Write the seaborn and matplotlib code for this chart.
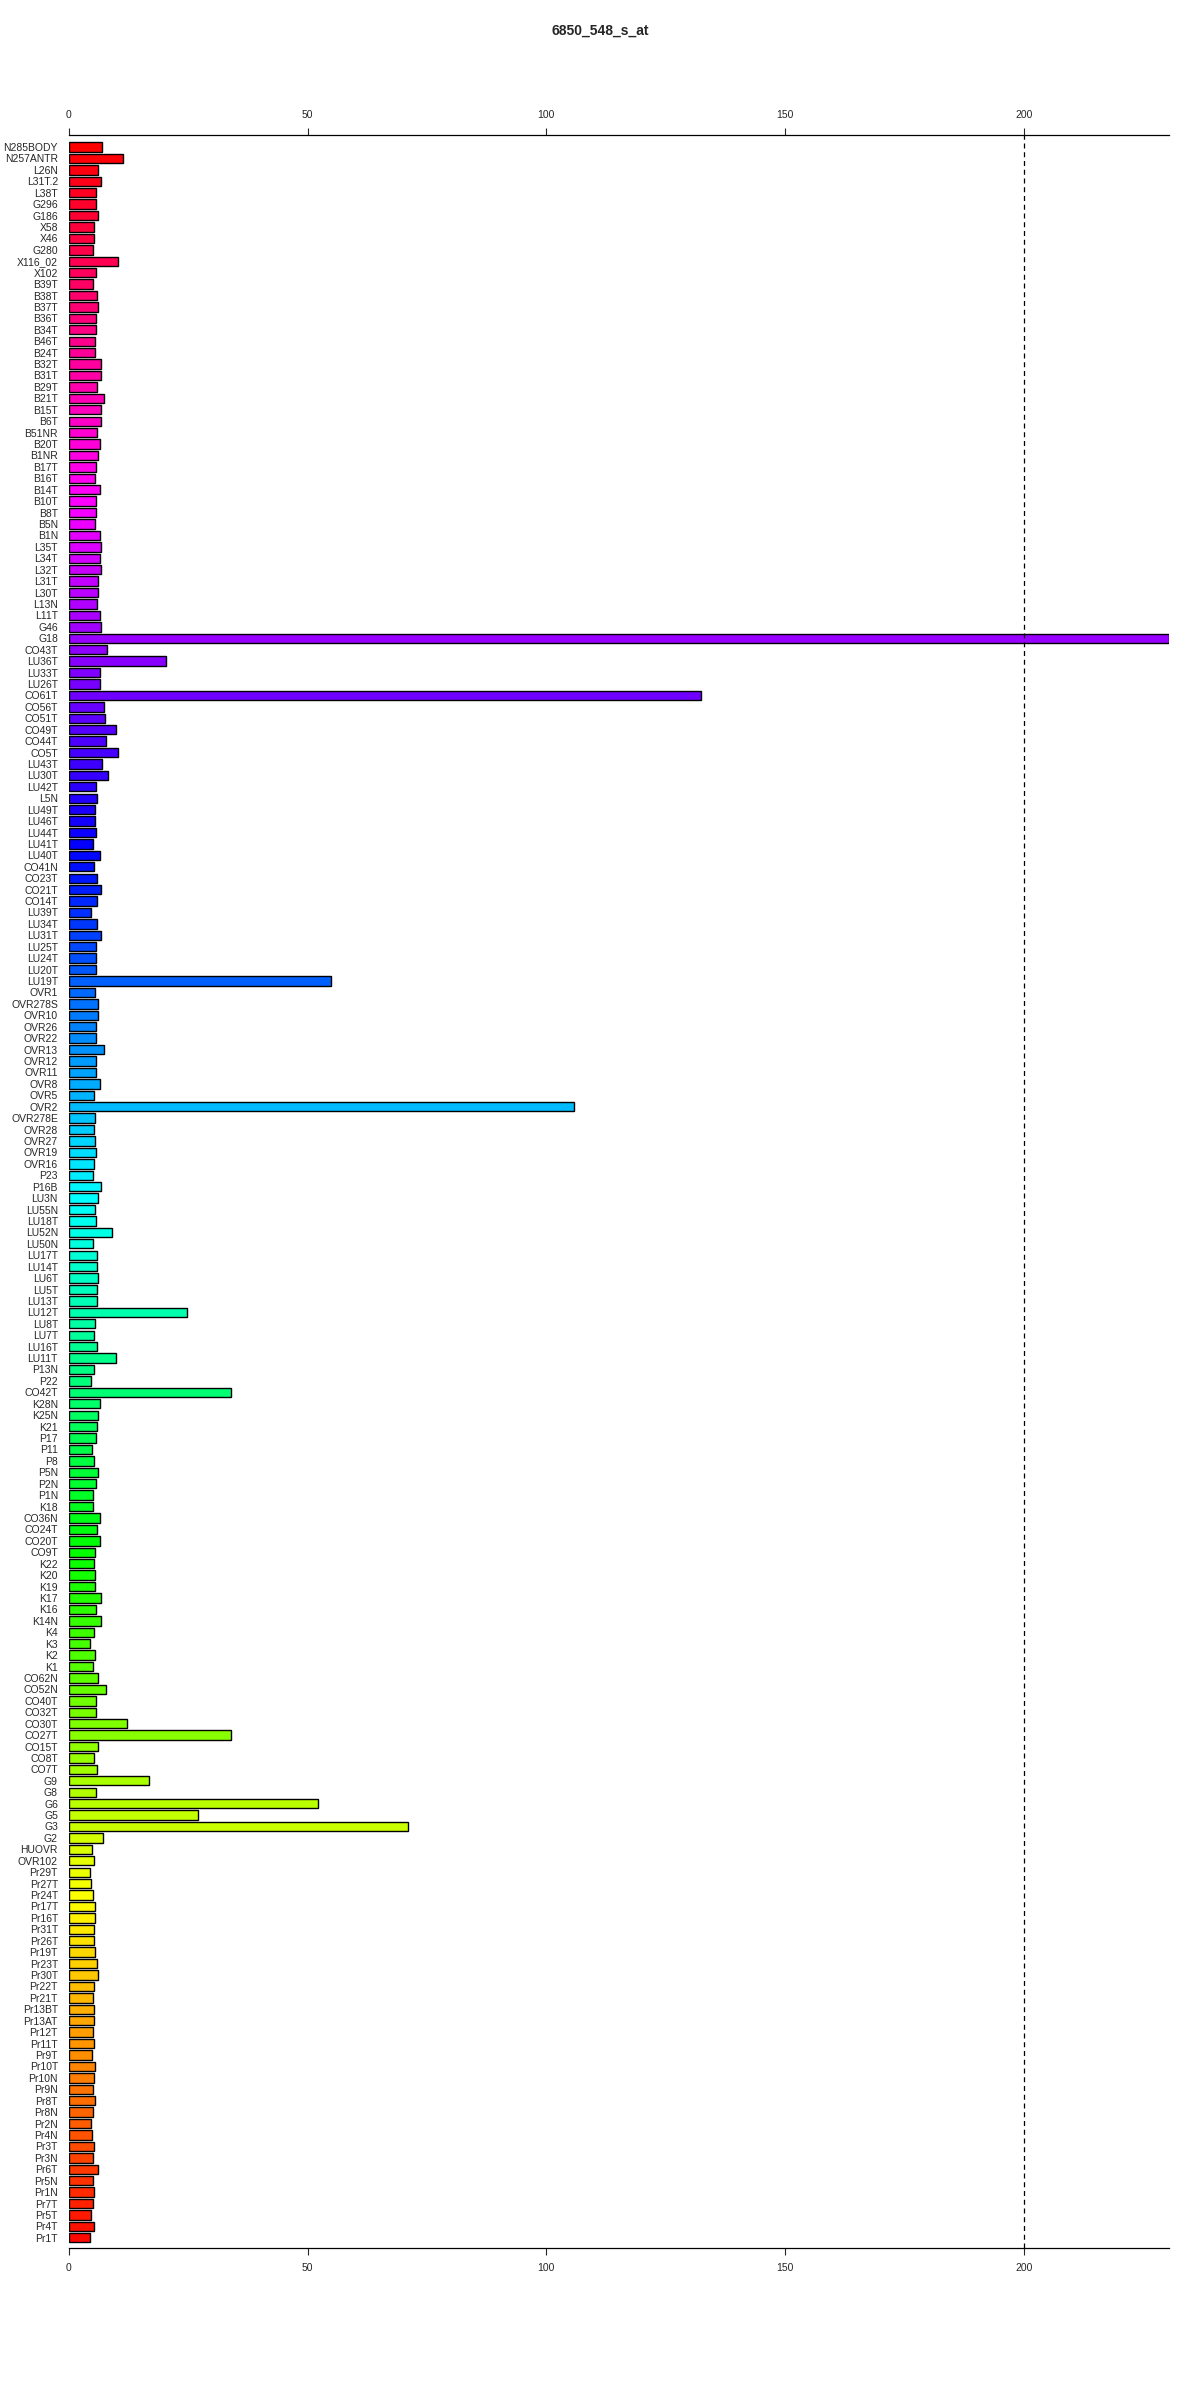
import colorsys
import numpy as np
import pandas as pd
import matplotlib
matplotlib.use("Agg")
import matplotlib.pyplot as plt
import seaborn as sns

# probe set shown in the title
title = "6850_548_s_at"

# sample names, top to bottom
samples = [
    "N285BODY", "N257ANTR", "L26N", "L31T.2", "L38T", "G296", "G186", "X58", "X46", "G280",
    "X116_02", "X102", "B39T", "B38T", "B37T", "B36T", "B34T", "B46T", "B24T", "B32T",
    "B31T", "B29T", "B21T", "B15T", "B6T", "B51NR", "B20T", "B1NR", "B17T", "B16T",
    "B14T", "B10T", "B8T", "B5N", "B1N", "L35T", "L34T", "L32T", "L31T", "L30T",
    "L13N", "L11T", "G46", "G18", "CO43T", "LU36T", "LU33T", "LU26T", "CO61T", "CO56T",
    "CO51T", "CO49T", "CO44T", "CO5T", "LU43T", "LU30T", "LU42T", "L5N", "LU49T", "LU46T",
    "LU44T", "LU41T", "LU40T", "CO41N", "CO23T", "CO21T", "CO14T", "LU39T", "LU34T", "LU31T",
    "LU25T", "LU24T", "LU20T", "LU19T", "OVR1", "OVR278S", "OVR10", "OVR26", "OVR22", "OVR13",
    "OVR12", "OVR11", "OVR8", "OVR5", "OVR2", "OVR278E", "OVR28", "OVR27", "OVR19", "OVR16",
    "P23", "P16B", "LU3N", "LU55N", "LU18T", "LU52N", "LU50N", "LU17T", "LU14T", "LU6T",
    "LU5T", "LU13T", "LU12T", "LU8T", "LU7T", "LU16T", "LU11T", "P13N", "P22", "CO42T",
    "K28N", "K25N", "K21", "P17", "P11", "P8", "P5N", "P2N", "P1N", "K18",
    "CO36N", "CO24T", "CO20T", "CO9T", "K22", "K20", "K19", "K17", "K16", "K14N",
    "K4", "K3", "K2", "K1", "CO62N", "CO52N", "CO40T", "CO32T", "CO30T", "CO27T",
    "CO15T", "CO8T", "CO7T", "G9", "G8", "G6", "G5", "G3", "G2", "HUOVR",
    "OVR102", "Pr29T", "Pr27T", "Pr24T", "Pr17T", "Pr16T", "Pr31T", "Pr26T", "Pr19T", "Pr23T",
    "Pr30T", "Pr22T", "Pr21T", "Pr13BT", "Pr13AT", "Pr12T", "Pr11T", "Pr9T", "Pr10T", "Pr10N",
    "Pr9N", "Pr8T", "Pr8N", "Pr2N", "Pr4N", "Pr3T", "Pr3N", "Pr6T", "Pr5N", "Pr1N",
    "Pr7T", "Pr5T", "Pr4T", "Pr1T",
]

# expression values
values = [
    7.0, 11.4, 6.15, 6.8, 5.7, 5.7, 6.15, 5.3, 5.3, 5.1,
    10.3, 5.7, 5.1, 5.9, 6.15, 5.7, 5.7, 5.5, 5.5, 6.6,
    6.6, 5.9, 7.4, 6.8, 6.6, 5.9, 6.4, 6.15, 5.7, 5.5,
    6.4, 5.7, 5.7, 5.5, 6.4, 6.6, 6.4, 6.6, 6.15, 6.15,
    5.9, 6.4, 6.8, 230.4, 8.0, 20.4, 6.4, 6.4, 132.4, 7.4,
    7.6, 9.9, 7.8, 10.3, 7.0, 8.2, 5.7, 5.9, 5.5, 5.5,
    5.7, 5.1, 6.4, 5.3, 5.9, 6.6, 5.9, 4.7, 5.9, 6.6,
    5.7, 5.7, 5.7, 54.8, 5.5, 6.15, 6.15, 5.7, 5.7, 7.4,
    5.7, 5.7, 6.4, 5.3, 105.8, 5.5, 5.3, 5.5, 5.7, 5.3,
    5.1, 6.6, 6.15, 5.5, 5.7, 9.1, 5.1, 5.9, 5.9, 6.15,
    5.9, 5.9, 24.8, 5.5, 5.3, 5.9, 9.9, 5.3, 4.7, 34.0,
    6.4, 6.15, 5.9, 5.7, 4.9, 5.3, 6.15, 5.7, 5.1, 5.1,
    6.4, 5.9, 6.4, 5.5, 5.3, 5.5, 5.5, 6.6, 5.7, 6.8,
    5.3, 4.5, 5.5, 5.1, 6.15, 7.8, 5.7, 5.7, 12.2, 34.0,
    6.15, 5.3, 5.9, 16.8, 5.7, 52.2, 27.1, 71.0, 7.2, 4.9,
    5.3, 4.5, 4.7, 5.1, 5.5, 5.5, 5.3, 5.3, 5.5, 5.9,
    6.15, 5.3, 5.1, 5.3, 5.3, 5.1, 5.3, 4.9, 5.5, 5.3,
    5.1, 5.5, 5.1, 4.7, 4.9, 5.3, 5.1, 6.15, 5.1, 5.3,
    5.1, 4.7, 5.3, 4.3,
]

x_ticks = [0, 50, 100, 150, 200]
cutoff = 200

df = pd.DataFrame({"sample": samples, "value": values})
n = len(df)

# rainbow going from red through magenta, blue, green, yellow back to red
colors = [colorsys.hsv_to_rgb((n - i) / n % 1.0, 1, 1) for i in range(n)]

sns.set_style("white")
plt.rcParams["font.family"] = ["Liberation Sans", "DejaVu Sans"]

fig = plt.figure(figsize=(12, 24), dpi=100)
ax = fig.add_axes([0.0575, 0.0633, 0.9165, 0.88045])

sns.barplot(data=df, x="value", y="sample", hue="sample", palette=colors,
            orient="h", width=0.82, edgecolor="black", linewidth=1.0,
            saturation=1, legend=False, ax=ax)

ax.axvline(cutoff, color="black", linestyle=(0, (4, 3)), linewidth=0.9)

ax.set_xlim(0, max(values))
ax.set_ylim(n - 1 + 0.9, -1.05)
ax.set_xlabel("")
ax.set_ylabel("")
ax.set_xticks(x_ticks)
ax.tick_params(axis="x", top=True, bottom=True, labeltop=True, labelbottom=True,
               direction="out", length=5, width=0.8, labelsize=7.5, pad=6)
ax.tick_params(axis="y", length=0, labelsize=7.5, pad=8)

for side in ["left", "right"]:
    ax.spines[side].set_visible(False)
for side in ["top", "bottom"]:
    ax.spines[side].set_linewidth(0.9)
    ax.spines[side].set_color("black")

fig.text(0.5, 0.987, title, ha="center", va="center", fontsize=10, fontweight="bold")

fig.savefig("out.png", dpi=100)
